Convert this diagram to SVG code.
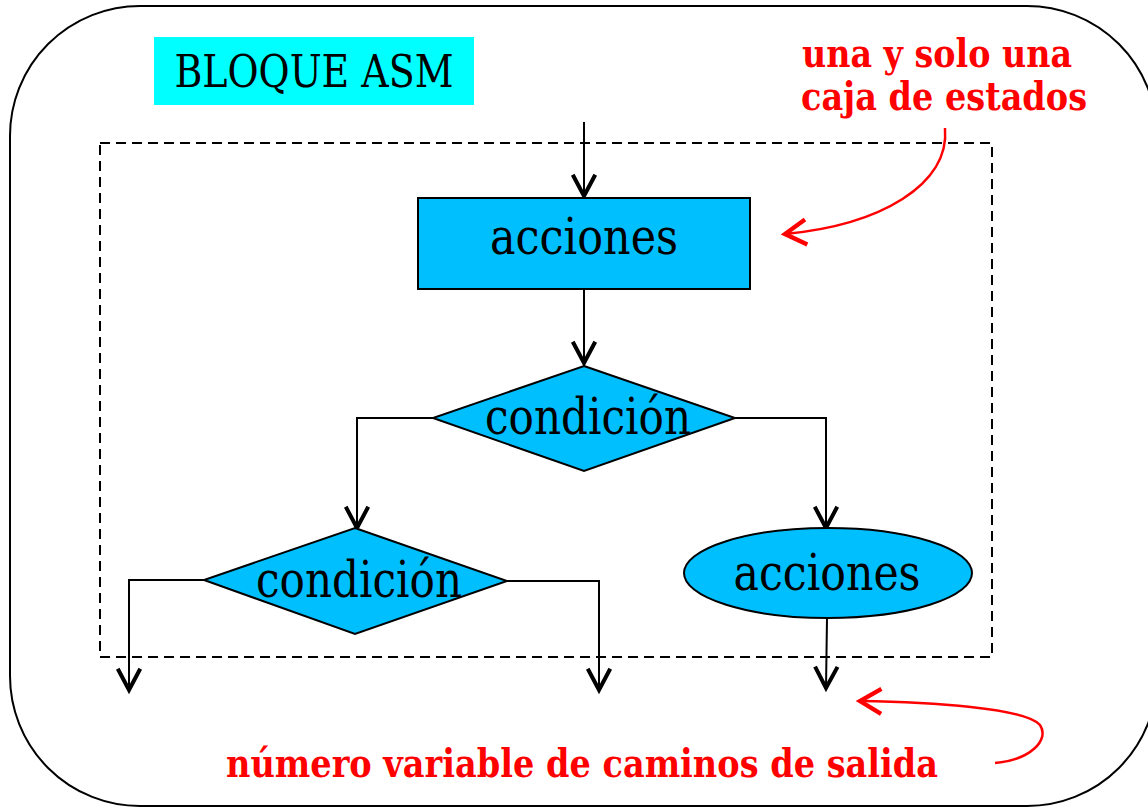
<svg xmlns="http://www.w3.org/2000/svg" width="1148" height="808" viewBox="0 0 1148 808">
<defs>
<style>
.lbl{font-family:"DejaVu Serif",serif;font-size:50px;fill:#000;text-anchor:middle}
.red{font-family:"DejaVu Serif",serif;font-weight:bold;font-size:40px;fill:#ff0000;text-anchor:middle}
.shape{fill:#00bfff;stroke:#000;stroke-width:2}
.conn{fill:none;stroke:#000;stroke-width:2}
.rconn{fill:none;stroke:#ff0000;stroke-width:2.5}
</style>
<marker id="v" markerUnits="userSpaceOnUse" markerWidth="30" markerHeight="30" refX="0" refY="0" viewBox="-20 -12 22 24" orient="auto" overflow="visible">
<path d="M-17,-9 L0,0 L-17,9" fill="none" stroke="#000" stroke-width="3.2"/>
</marker>
<marker id="vr" markerUnits="userSpaceOnUse" markerWidth="30" markerHeight="30" refX="0" refY="0" viewBox="-20 -12 22 24" orient="auto" overflow="visible">
<path d="M-17,-10 L0,0 L-17,10" fill="none" stroke="#ff0000" stroke-width="3.5"/>
</marker>
</defs>
<rect x="0" y="0" width="1148" height="808" fill="#fff"/>
<rect x="10" y="6" width="1147" height="800" rx="130" ry="130" fill="none" stroke="#000" stroke-width="2"/>
<rect x="100" y="143" width="892" height="514" fill="none" stroke="#000" stroke-width="2" stroke-dasharray="10,6"/>
<g id="title">
<rect x="154" y="37" width="320" height="68" fill="#00ffff"/>
<text class="lbl" x="314" y="87" style="font-size:44px" textLength="279" lengthAdjust="spacingAndGlyphs">BLOQUE ASM</text>
</g>
<g id="connectors">
<path class="conn" d="M584,122 L584,196" marker-end="url(#v)"/>
<path class="conn" d="M584,289 L584,363" marker-end="url(#v)"/>
<path class="conn" d="M433,418 L357,418 L357,528" marker-end="url(#v)"/>
<path class="conn" d="M735,418 L826,418 L826,528" marker-end="url(#v)"/>
<path class="conn" d="M204,580 L129,580 L129,690" marker-end="url(#v)"/>
<path class="conn" d="M507,581 L599,581 L599,690" marker-end="url(#v)"/>
<path class="conn" d="M827,618 L826,688" marker-end="url(#v)"/>
<path class="rconn" d="M945,128 C950,185 880,225 785,234" marker-end="url(#vr)"/>
<path class="rconn" d="M995,763 C1030,760 1050,740 1040,725 C1025,708 930,702 860,701" marker-end="url(#vr)"/>
</g>
<g id="state">
<rect class="shape" x="418" y="198" width="332" height="91"/>
<text class="lbl" x="584" y="254" textLength="188" lengthAdjust="spacingAndGlyphs">acciones</text>
</g>
<g id="cond1">
<polygon class="shape" points="584,366 735,418 584,471 433,418"/>
<text class="lbl" x="588" y="434" textLength="206" lengthAdjust="spacingAndGlyphs">condición</text>
</g>
<g id="cond2">
<polygon class="shape" points="355,528 507,581 355,634 204,580"/>
<text class="lbl" x="359" y="597" textLength="206" lengthAdjust="spacingAndGlyphs">condición</text>
</g>
<g id="cond-action">
<ellipse class="shape" cx="828" cy="573" rx="144" ry="45"/>
<text class="lbl" x="827" y="590" textLength="187" lengthAdjust="spacingAndGlyphs">acciones</text>
</g>
<g id="note1">
<text class="red" x="937" y="67" textLength="270" lengthAdjust="spacingAndGlyphs">una y solo una</text>
<text class="red" x="944" y="110" textLength="286" lengthAdjust="spacingAndGlyphs">caja de estados</text>
</g>
<g id="note2">
<text class="red" x="582" y="777" textLength="712" lengthAdjust="spacingAndGlyphs">número variable de caminos de salida</text>
</g>
</svg>
